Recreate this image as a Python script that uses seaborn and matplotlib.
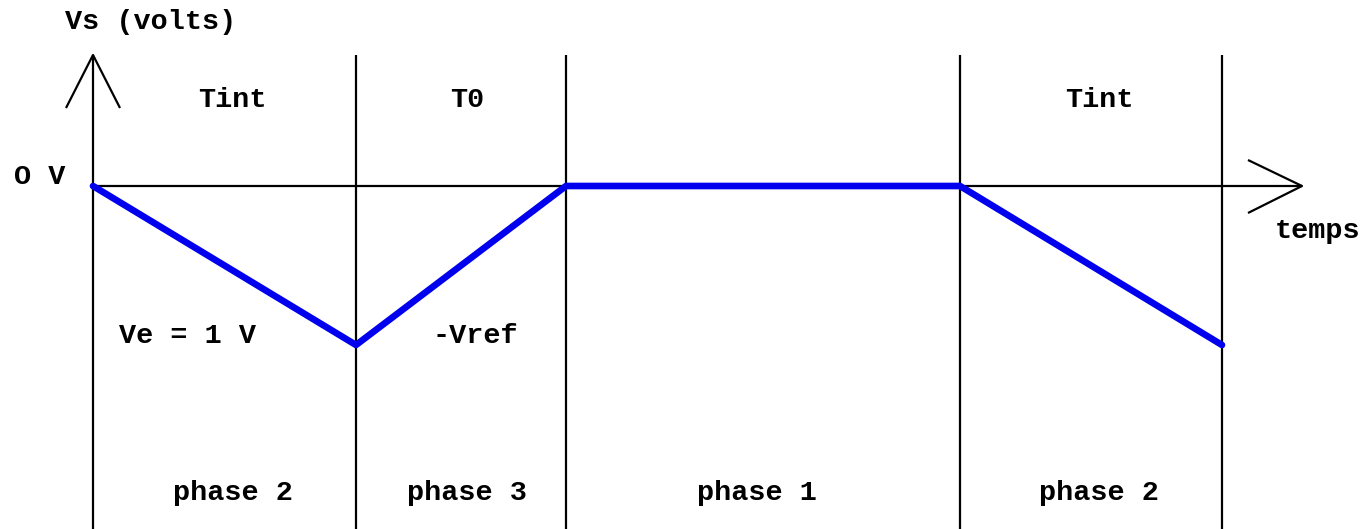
import matplotlib.pyplot as plt
import numpy as np
import pandas as pd
import seaborn as sns

# instants (unites arbitraires) et tension de sortie de l'integrateur
temps = [0, 263, 473, 867, 1129]
vs = [0.0, -1.0, 0.0, 0.0, -1.0]

# frontieres des phases
bornes = [0, 263, 473, 867, 1129]
phases = ["phase 2", "phase 3", "phase 1", "phase 2"]
durees = ["Tint", "T0", "", "Tint"]
pentes = ["Ve = 1 V", "-Vref", "", ""]

sns.set_style("white")
fig = plt.figure(figsize=(13.64, 5.29), dpi=100)
ax = fig.add_axes([0, 0, 1, 1])

# 1 V = 159 px, origine en (93, 186) px
ax.set_xlim(-93, 1364 - 93)
ax.set_ylim(-(529 - 186) / 159, 186 / 159)
ax.axis("off")

mono = {"family": "Liberation Mono", "weight": "bold", "size": 20.5, "color": "black"}
k = dict(color="black", lw=1.6, solid_capstyle="butt")

# axes avec fleches
ytop = (186 - 55) / 159
xend = 1302 - 93
ax.plot([0, 0], [ytop, ax.get_ylim()[0]], **k)
ax.plot([-27, 0, 27], [ytop - 53 / 159, ytop, ytop - 53 / 159], **k)
ax.plot([0, xend], [0, 0], **k)
ax.plot([xend - 54, xend, xend - 54], [26 / 159, 0, -27 / 159], **k)

for b in bornes[1:]:
    ax.plot([b, b], [ytop, ax.get_ylim()[0]], **k)

df = pd.DataFrame({"t": temps, "vs": vs})
sns.lineplot(data=df, x="t", y="vs", color="#0000ee", lw=4.8, ax=ax,
             solid_capstyle="round", solid_joinstyle="round", zorder=3)


def py(p):
    # pixel vertical -> volts
    return (186 - p) / 159


ax.text(151 - 93, py(22), "Vs (volts)", ha="center", va="center", fontdict=mono)
ax.text(14 - 93, py(177), "O V", ha="left", va="center", fontdict=mono)
ax.text(1318 - 93, py(231), "temps", ha="center", va="center", fontdict=mono)

decal = [8, 6, -6, 8]
for i, nom in enumerate(phases):
    mid = (bornes[i] + bornes[i + 1]) / 2 + decal[i]
    ax.text(mid, py(493), nom, ha="center", va="center", fontdict=mono)
    if durees[i]:
        ax.text(mid, py(100), durees[i], ha="center", va="center", fontdict=mono)

ax.text(119 - 93, py(336), pentes[0], ha="left", va="center", fontdict=mono)
ax.text(475 - 93, py(336), pentes[1], ha="center", va="center", fontdict=mono)

fig.savefig("out.png", dpi=100)
